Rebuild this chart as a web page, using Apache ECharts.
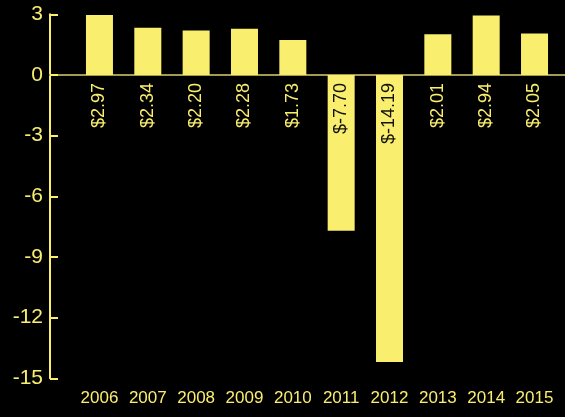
<!DOCTYPE html>
<html>
<head>
    <meta charset="utf-8">
    <title>chart</title>
    <style>
        html, body { margin: 0; padding: 0; background: #000; }
        #chart { width: 565px; height: 417px; }
    </style>
    <script src="https://cdn.jsdelivr.net/npm/echarts@6/dist/echarts.min.js"></script>
</head>
<body>
<div id="chart"></div>
<script>
    // data
    var years = ['2006', '2007', '2008', '2009', '2010', '2011', '2012', '2013', '2014', '2015'];
    var values = [2.97, 2.34, 2.20, 2.28, 1.73, -7.70, -14.19, 2.01, 2.94, 2.05];
    var yTicks = [3, 0, -3, -6, -9, -12, -15];

    var yellow = '#f9ee6e';
    var font = 'Liberation Sans, Arial, sans-serif';

    // bar labels sit just under the zero line, rotated
    var barData = values.map(function (v) {
        return {
            value: v,
            label: {
                position: v < 0 ? 'insideTop' : 'bottom',
                color: v < 0 ? '#111' : yellow
            }
        };
    });

    var chart = echarts.init(document.getElementById('chart'));
    chart.setOption({
        backgroundColor: '#000',
        animation: false,
        grid: [
            {left: 75.3, right: 6.3, top: 14.3, bottom: 38.7},
            {left: 50, right: 0, top: 14.3, bottom: 38.7}
        ],
        xAxis: [{
            type: 'category',
            data: years,
            axisLine: {show: false, onZero: false},
            axisTick: {show: false},
            axisLabel: {color: yellow, fontSize: 17, fontFamily: font, margin: 12, interval: 0}
        }, {
            // zero line across the full width
            gridIndex: 1,
            type: 'value',
            min: 0, max: 1,
            axisLine: {show: true, onZero: true, lineStyle: {color: '#a39b4e', width: 2}},
            axisTick: {show: false},
            axisLabel: {show: false},
            splitLine: {show: false}
        }],
        yAxis: [{
            type: 'value',
            min: yTicks[yTicks.length - 1],
            max: yTicks[0],
            interval: 3,
            offset: 25.3,
            axisLine: {show: true, lineStyle: {color: yellow, width: 2}},
            axisTick: {show: true, inside: true, length: 8, lineStyle: {color: yellow, width: 2}},
            axisLabel: {color: yellow, fontSize: 21, fontFamily: font, margin: 7},
            splitLine: {show: false}
        }, {
            gridIndex: 1,
            type: 'value',
            min: yTicks[yTicks.length - 1],
            max: yTicks[0],
            show: false
        }],
        series: [{
            type: 'bar',
            barWidth: 27,
            data: barData,
            itemStyle: {color: yellow},
            label: {
                show: true,
                rotate: 90,
                align: 'right',
                verticalAlign: 'middle',
                distance: 8,
                fontSize: 18,
                fontFamily: font,
                formatter: function (p) { return '$' + p.value.toFixed(2); }
            }
        }]
    });
</script>
</body>
</html>
